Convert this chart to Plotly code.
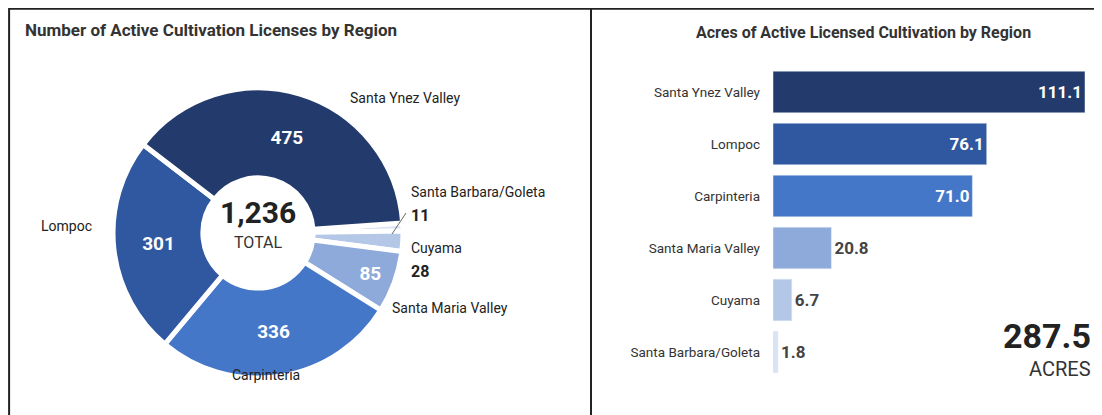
import plotly.graph_objects as go

regions = ["Santa Ynez Valley", "Lompoc", "Carpinteria", "Santa Maria Valley", "Cuyama", "Santa Barbara/Goleta"]
licenses = [475, 301, 336, 85, 28, 11]
acres = [111.1, 76.1, 71.0, 20.8, 6.7, 1.8]
colors = ["#223a6c", "#2f58a0", "#4577c9", "#8eaadb", "#b4c7e7", "#dae3f3"]

W, H = 1102, 415
def px(x): return x / W
def py(y): return 1 - y / H

fig = go.Figure()

# pie drawn clockwise from 3 o'clock, so reverse the order
fig.add_trace(go.Pie(
    labels=regions[::-1], values=licenses[::-1], sort=False, direction="clockwise", rotation=86,
    hole=0.38, marker=dict(colors=colors[::-1], line=dict(color="white", width=5)),
    text=[str(v) if v > 50 else "" for v in licenses[::-1]], textinfo="text",
    textposition="inside", insidetextorientation="horizontal",
    textfont=dict(family="Roboto", size=19, color="white", weight="bold"),
    domain=dict(x=[px(105), px(395)], y=[py(370), py(80)]), showlegend=False,
))

fig.add_trace(go.Bar(
    y=regions, x=acres, orientation="h",
    marker=dict(color=colors), width=0.8,
    text=[f"{a:.1f}" for a in acres],
    textposition=["inside" if a > 50 else "outside" for a in acres],
    insidetextanchor="end",
    textfont=dict(family="Roboto", size=17, weight="bold",
                  color=["white" if a > 50 else "#444" for a in acres]),
    cliponaxis=False, showlegend=False,
))

fig.update_xaxes(domain=[px(765), px(1077)], range=[0, 111.1], visible=False)
fig.update_yaxes(domain=[py(370), py(58)], autorange="reversed", showgrid=False,
                 tickfont=dict(family="Roboto", size=13.5, color="#333"), ticks="", ticklabelstandoff=12)

ann = []
def a(x, y, t, size=14, bold=False, xanchor="center", color="#222"):
    ann.append(dict(x=px(x), y=py(y), xref="paper", yref="paper", text=t, showarrow=False,
                    xanchor=xanchor, yanchor="middle",
                    font=dict(family="Roboto", size=size, color=color, weight="bold" if bold else "normal")))

a(15, 22, "Number of Active Cultivation Licenses by Region", 17, True, "left", "#333")
a(855, 24, "Acres of Active Licensed Cultivation by Region", 16, True, "center", "#333")
a(250, 205, "1,236", 30, True)
a(250, 234, "TOTAL", 16, False, color="#333")
a(1085, 328, "287.5", 34, True, "right")
a(1085, 361, "ACRES", 20, False, "right", "#333")
a(397, 90, "Santa Ynez Valley", 14)
a(58, 218, "Lompoc", 14)
a(258, 367, "Carpinteria", 14)
a(442, 300, "Santa Maria Valley", 14)
a(401, 184, "Santa Barbara/Goleta", 14, False, "left")
a(401, 207, "11", 16, True, "left")
a(401, 240, "Cuyama", 14, False, "left")
a(401, 263, "28", 16, True, "left")

fig.update_layout(
    width=W, height=H, margin=dict(l=0, r=0, t=0, b=0),
    paper_bgcolor="white", plot_bgcolor="white", annotations=ann,
    shapes=[
        dict(type="rect", xref="paper", yref="paper", x0=0.001, x1=0.999, y0=0.002, y1=0.998,
             line=dict(color="#222", width=2)),
        dict(type="line", xref="paper", yref="paper", x0=px(583), x1=px(583), y0=0, y1=1,
             line=dict(color="#222", width=2)),
        dict(type="line", xref="paper", yref="paper", x0=px(384), x1=px(398), y0=py(226), y1=py(205),
             line=dict(color="#666", width=1)),
    ],
)

fig.write_html("out.html")
